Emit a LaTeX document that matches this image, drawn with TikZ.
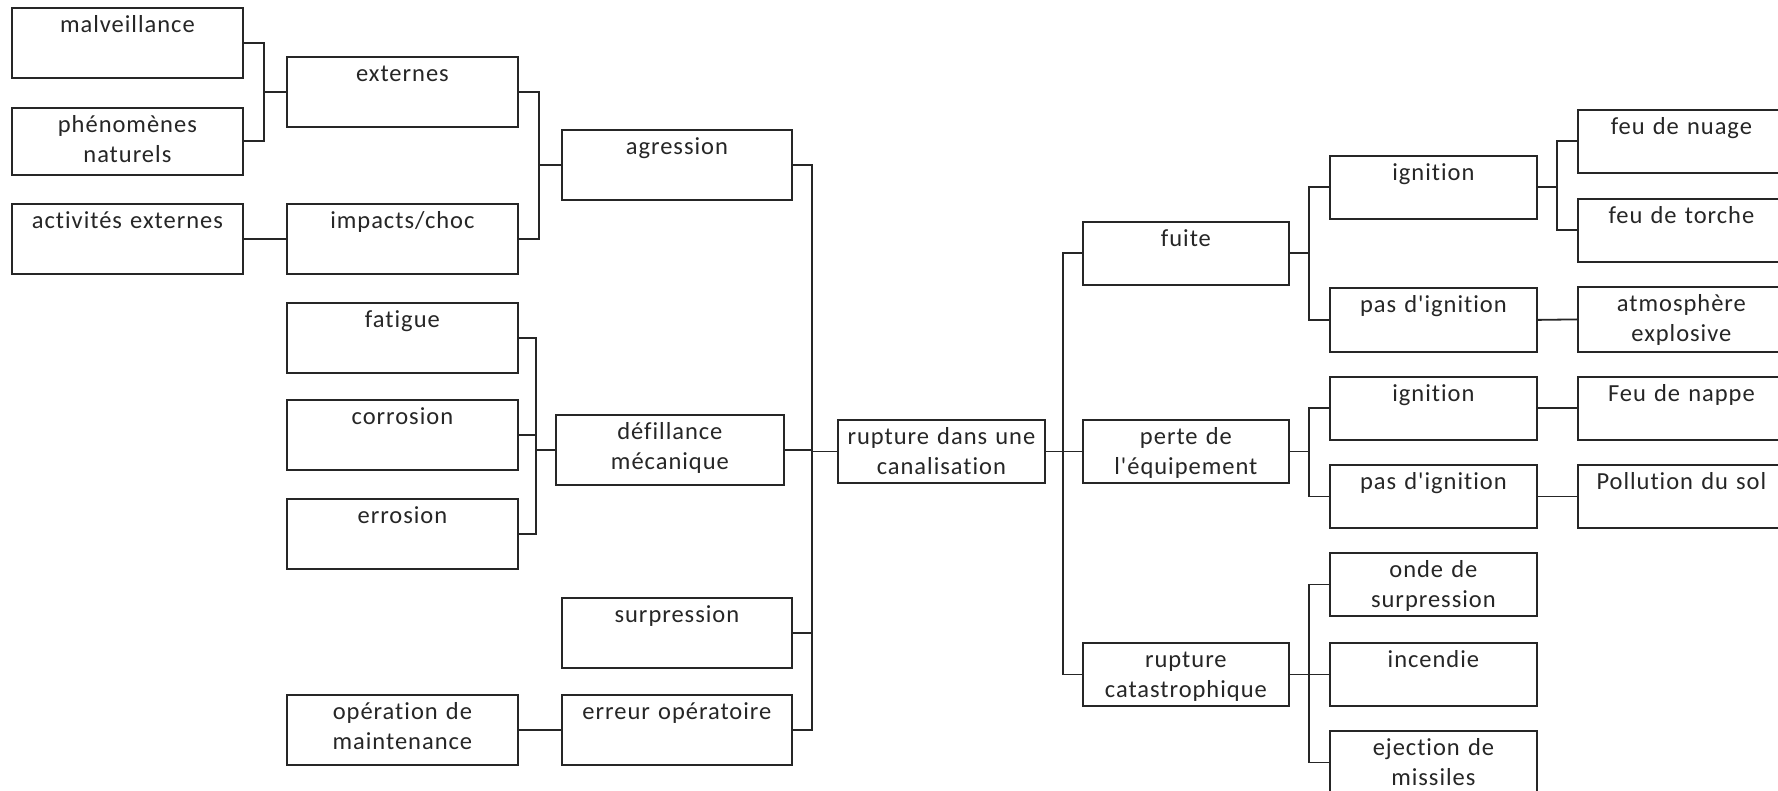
\documentclass[tikz,border=0pt]{standalone}
\usepackage{fontspec}
\setmainfont{Carlito}[Ligatures={TeXOff,NoCommon},LetterSpace=4]
\usepackage{tikz}

\tikzset{
  cell/.style={draw=black!85,line width=1.8pt,inner sep=0pt,anchor=north west,
    text=black!85,text width=231pt,align=center,
    font={\fontsize{24.5}{30}\selectfont},text height=25pt,text depth=45pt},
  slim/.style={text width=207pt,text depth=38pt},
  link/.style={draw=black!85,line width=1.8pt},
}

\begin{document}
\begin{tikzpicture}[x=1pt,y=-1pt]
\useasboundingbox (0,0) rectangle (1778,791);
\fill[white] (0,0) rectangle (1778,791);

% causes
\node[cell] (mal) at (11,7) {malveillance};
\node[cell,text depth=42pt] (phen) at (11,107) {phénomènes\\naturels};
\node[cell] (act) at (11,203) {activités externes};
\node[cell] (ext) at (286,56) {externes};
\node[cell] (imp) at (286,203) {impacts/choc};
\node[cell] (fat) at (286,302) {fatigue};
\node[cell] (cor) at (286,399) {corrosion};
\node[cell] (err) at (286,498) {errosion};
\node[cell] (maint) at (286,694) {opération de\\maintenance};
\node[cell,text width=230pt] (agr) at (561,129) {agression};
\node[cell,text width=228pt] (def) at (555,414) {défillance\\mécanique};
\node[cell,text width=230pt] (surp) at (561,597) {surpression};
\node[cell,text width=230pt] (erop) at (561,694) {erreur opératoire};

% event
\node[cell,slim] (rup) at (837,419) {rupture dans une\\canalisation};

% consequences
\node[cell,slim,text width=206pt] (fuite) at (1082,221) {fuite};
\node[cell,slim,text width=206pt] (perte) at (1082,419) {perte de\\l'équipement};
\node[cell,slim,text width=206pt] (cata) at (1082,642) {rupture\\catastrophique};
\node[cell,slim] (ign1) at (1329,155) {ignition};
\node[cell,slim,text depth=39pt] (pas1) at (1329,287) {pas d'ignition};
\node[cell,slim] (ign2) at (1329,376) {ignition};
\node[cell,slim] (pas2) at (1329,464) {pas d'ignition};
\node[cell,slim] (onde) at (1329,552) {onde de\\surpression};
\node[cell,slim] (inc) at (1329,642) {incendie};
\node[cell,slim] (ej) at (1329,730) {ejection de\\missiles};
\node[cell,slim] (nuage) at (1577,109) {feu de nuage};
\node[cell,slim] (torche) at (1577,198) {feu de torche};
\node[cell,slim,text depth=40pt] (atm) at (1577,286) {atmosphère\\explosive};
\node[cell,slim] (nappe) at (1577,376) {Feu de nappe};
\node[cell,slim] (poll) at (1577,464) {Pollution du sol};

% bus lines
\coordinate (b1) at (264,0);
\coordinate (b2) at (539,0);
\coordinate (b3) at (536,0);
\coordinate (b4) at (812,0);
\coordinate (b5) at (1063,0);
\coordinate (b6) at (1309,0);
\coordinate (b7) at (1557,0);

\foreach \n in {mal,phen}
  \draw[link] (\n.east) -| (b1 |- ext.west) -- (ext.west);
\draw[link] (act.east) -- (imp.west);
\foreach \n in {ext,imp}
  \draw[link] (\n.east) -| (b2 |- agr.west) -- (agr.west);
\foreach \n in {fat,cor,err}
  \draw[link] (\n.east) -| (b3 |- def.west) -- (def.west);
\draw[link] (maint.east) -- (erop.west);
\foreach \n in {agr,def,surp,erop}
  \draw[link] (\n.east) -| (b4 |- rup.west) -- (rup.west);

\foreach \n in {fuite,perte,cata}
  \draw[link] (rup.east) -| (b5 |- \n.west) -- (\n.west);
\foreach \n in {ign1,pas1}
  \draw[link] (fuite.east) -| (b6 |- \n.west) -- (\n.west);
\foreach \n in {ign2,pas2}
  \draw[link] (perte.east) -| (b6 |- \n.west) -- (\n.west);
\foreach \n in {onde,inc,ej}
  \draw[link] (cata.east) -| (b6 |- \n.west) -- (\n.west);
\foreach \n in {nuage,torche}
  \draw[link] (ign1.east) -| (b7 |- \n.west) -- (\n.west);
\draw[link] (pas1.east) -- (atm.west);
\draw[link] (ign2.east) -- (nappe.west);
\draw[link] (pas2.east) -- (poll.west);
\end{tikzpicture}
\end{document}
